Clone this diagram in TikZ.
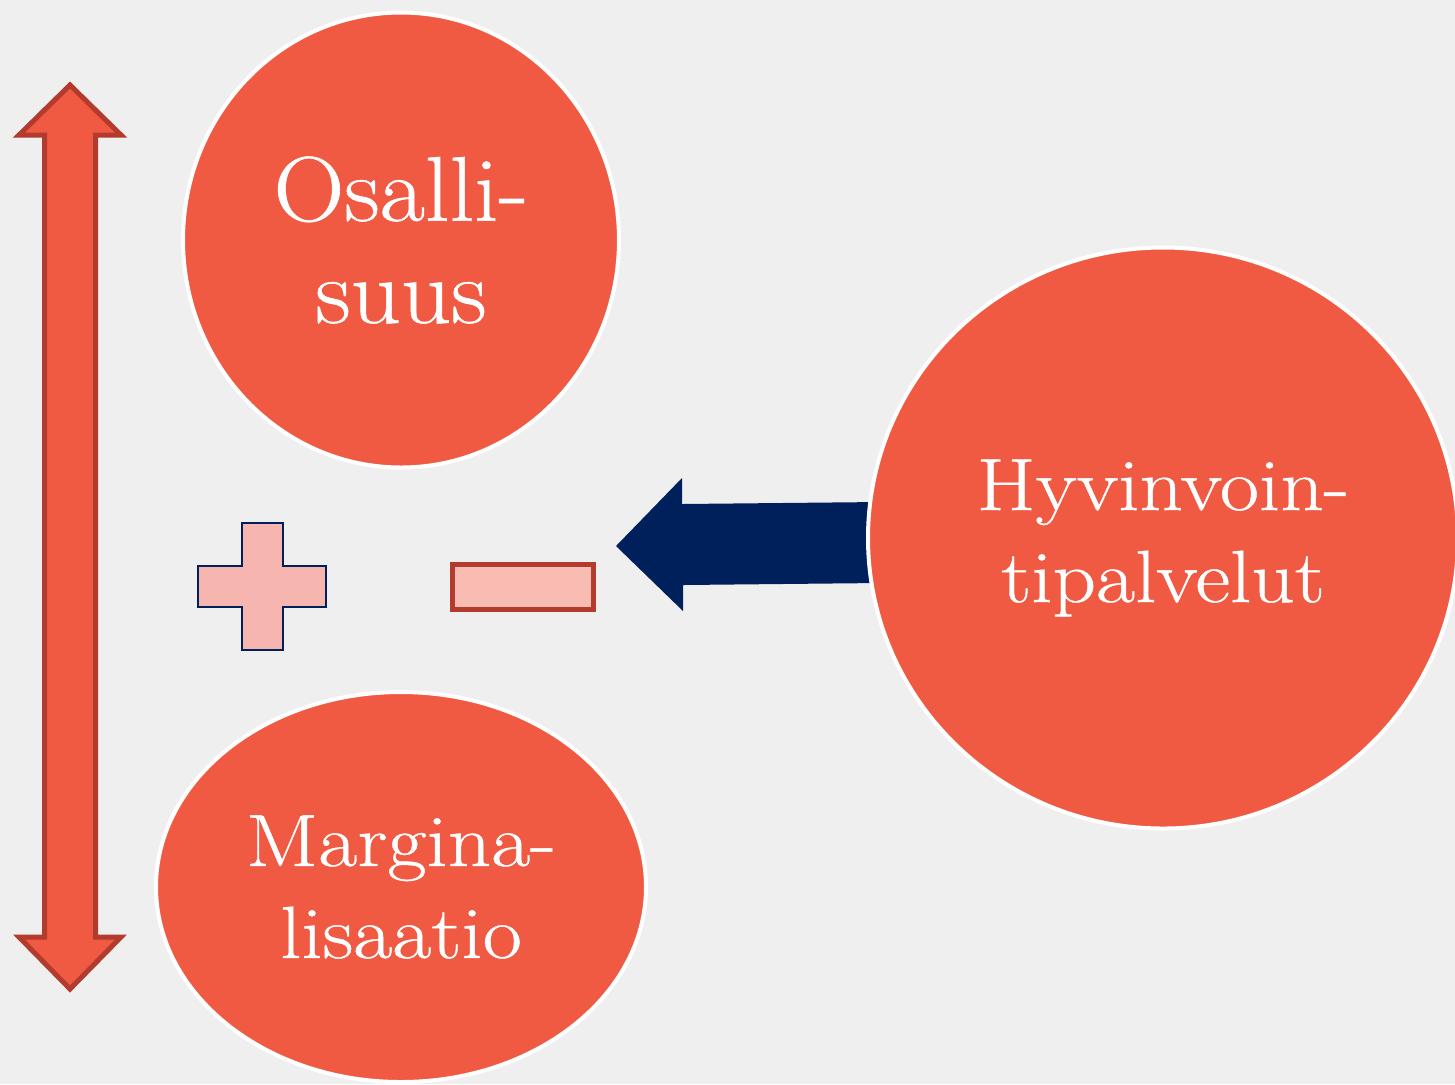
\documentclass[tikz,border=0pt]{standalone}
\usepackage{fontspec}
\newfontfamily\wideserif{Latin Modern Roman}[FakeStretch=1.15,FakeBold=0.6]
\newfontfamily\bigserif{Latin Modern Roman}[FakeStretch=1.07,FakeBold=0.6]
\usetikzlibrary{shapes.geometric}
\definecolor{bgc}{HTML}{EFEFEF}
\definecolor{circ}{HTML}{F15A42}
\definecolor{darkred}{HTML}{B23B2D}
\definecolor{navy}{HTML}{00205C}
\definecolor{pluspink}{HTML}{F7B5B0}
\definecolor{minuspink}{HTML}{F9BCB2}
\tikzset{
  bubble/.style={ellipse, fill=circ, draw=white, line width=2pt, inner sep=0pt,
    text=white, align=center},
  bigtext/.style={font=\bigserif\fontsize{46}{51}\selectfont},
  smalltext/.style={font=\wideserif\fontsize{37}{46}\selectfont},
  redarrow/.style={fill=circ, draw=darkred, line width=2.5pt, line join=miter},
  navyarrow/.style={fill=navy, draw=none},
  plusshape/.style={fill=pluspink, draw=navy, line width=0.9pt},
  minusshape/.style={fill=minuspink, draw=darkred, line width=2.5pt}
}
\begin{document}
\begin{tikzpicture}[x=0.5pt,y=-0.5pt]
\fill[bgc] (0,0) rectangle (1455,1084);
\useasboundingbox (0,0) rectangle (1455,1084);

% vertical double arrow
\draw[redarrow] (70,85) -- (121,135) -- (95.5,135) -- (95.5,937) -- (121,937)
  -- (70,989) -- (19,937) -- (44.5,937) -- (44.5,135) -- (19,135) -- cycle;

% navy arrow (drawn under the bubble)
\fill[navyarrow] (616,546) -- (682,478) -- (682,504) -- (880,502) -- (880,583)
  -- (683,585) -- (683,611) -- cycle;

% bubbles
\node[bubble, bigtext, minimum width=218pt, minimum height=227.5pt] (osal) at (401,240) {Osalli-\\suus};
\node[bubble, smalltext, minimum width=295pt, minimum height=290.5pt] (hyv) at (1163,538) {Hyvinvoin-\\tipalvelut};
\node[bubble, smalltext, minimum width=245pt, minimum height=195pt] (marg) at (401,887) {Margina-\\lisaatio};

% plus sign
\draw[plusshape] (242,523) -- (283,523) -- (283,566) -- (326,566) -- (326,607)
  -- (283,607) -- (283,650) -- (242,650) -- (242,607) -- (198,607) -- (198,566)
  -- (242,566) -- cycle;

% minus sign
\draw[minusshape] (452.5,564.5) rectangle (593.5,609.5);
\end{tikzpicture}
\end{document}
